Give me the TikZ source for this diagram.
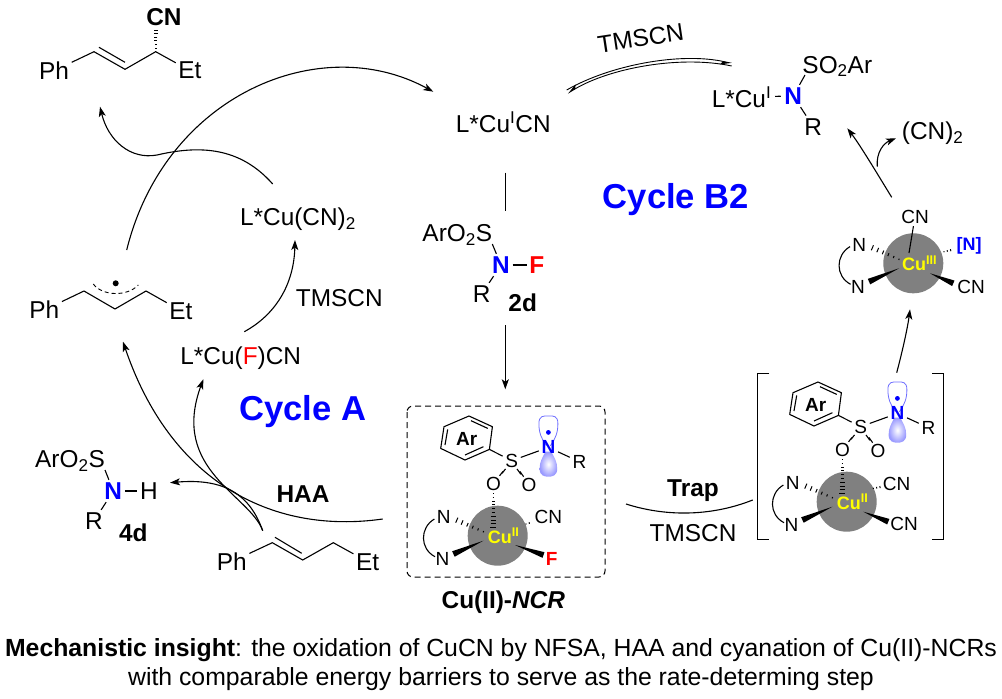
\documentclass[tikz,border=0pt]{standalone}
\usepackage{fontspec}
\setmainfont{Liberation Sans}
\usetikzlibrary{arrows.meta, calc, decorations.markings}
\definecolor{cycleblue}{RGB}{0, 0, 255}
\definecolor{lobeblue}{RGB}{110, 110, 255}
\definecolor{coregray}{RGB}{128, 128, 128}
\definecolor{cuyellow}{RGB}{255, 255, 0}
\newcommand{\wedgebond}[2]{\fill (#1) -- ($(#2)!3pt!90:(#1)$) -- ($(#2)!3pt!-90:(#1)$) -- cycle;}
\newcommand{\innersize}{\fontsize{19}{22}\selectfont}
\tikzset{
    atom/.style={font=\innersize},
    hashbond/.style={decorate, decoration={markings, mark=between positions 0 and 1 step #1pt with {
        \pgfmathsetmacro\hashw{0.3+0.07*#1*\pgfkeysvalueof{/pgf/decoration/mark info/sequence number}}
        \draw[line width=1pt] (0pt,-\hashw pt) -- (0pt,\hashw pt);}}},
    hashbond/.default=3.8,
    % Cu sphere with its N,N ligand
    pics/cusphere/.style={code={
        \fill[coregray] (0,0) circle (30);
        \node[atom] (-nu) at (-54,-18.3) {N};
        \node[atom] (-nd) at (-55.3,23.7) {N};
        \coordinate (-nu_t) at (-14.3,-4);
        \coordinate (-nu_w) at (-42.7,-16.3);
        \coordinate (-nd_t) at (-14.3,5);
        \coordinate (-nd_w) at (-44.3,18.3);
        \coordinate (-arc_a) at (-63.3,-16.7);
        \coordinate (-arc_b) at (-62.7,21);
        \path[hashbond=5.8] (-nu_t) -- (-nu_w);
        \wedgebond{-nd_t}{-nd_w}
        \draw (-arc_a) .. controls (-78,-8) and (-78,13) .. (-arc_b);
    }},
    % Ar-SO2-N(R) part sitting on the sphere
    pics/sulfonyl/.style={code={
        \coordinate (-r1) at (-28.7,-119.7);
        \coordinate (-r2) at (-5.3,-109);
        \coordinate (-r3) at (-8.3,-86.3);
        \coordinate (-r4) at (-32.7,-75.7);
        \coordinate (-r5) at (-57,-87.3);
        \coordinate (-r6) at (-53.7,-109);
        \draw[line join=round] (-r1) -- (-r2) -- (-r3) -- (-r4) -- (-r5) -- (-r6) -- cycle;
        \draw (-26.7,-115) -- (-10,-107.3);
        \draw (-14.3,-89) -- (-32.7,-80.7);
        \draw (-52.7,-90.7) -- (-50,-106.3);
        \node[atom, font=\innersize\bfseries] (-ar) at (-31,-96.3) {Ar};
        % p orbital
        \begin{scope}[shift={(50.7,0)}]
            \draw[lobeblue, line width=.8pt] (-2,-90) .. controls (-7,-97) and (-9.5,-103) .. (-9.5,-112)
                .. controls (-9.5,-120) and (-5,-120) .. (0,-119.7)
                .. controls (5,-120) and (9.5,-120) .. (9.5,-112)
                .. controls (9.5,-103) and (7,-97) .. (2,-90);
            \shade[inner color=white, outer color=lobeblue!70] (-3,-84) .. controls (-6,-78) and (-8.8,-74) .. (-8.8,-67)
                .. controls (-8.8,-60) and (-4,-59) .. (0,-59)
                .. controls (4,-59) and (8.8,-60) .. (8.8,-67)
                .. controls (8.8,-74) and (6,-78) .. (3,-84) -- cycle;
            \fill[cycleblue] (0,-103.3) circle (2.4);
        \end{scope}
        \node[atom] (-s) at (14,-75) {S};
        \node[atom, text=cycleblue, font=\innersize\bfseries] (-n) at (50.7,-88.3) {N};
        \node[atom] (-r) at (81.7,-74) {R};
        \node[atom] (-ol) at (-4.3,-51.7) {O};
        \node[atom] (-or) at (31.3,-50.7) {O};
        \draw (-r3) -- (-s);
        \draw (-s) -- (-n);
        \draw (-n) -- (-r);
        \draw[transform canvas={shift={(-1.3pt,-1.3pt)}}] (-s) -- (-ol);
        \draw[transform canvas={shift={(1.3pt,1.3pt)}}] (-s) -- (-ol);
        \draw[transform canvas={shift={(1.4pt,-1.2pt)}}] (-s) -- (-or);
        \draw[transform canvas={shift={(-1.4pt,1.2pt)}}] (-s) -- (-or);
        \coordinate (-o_w) at (-4.3,-5.7);
        \path[hashbond=3.8] (-ol.south) -- (-o_w);
    }}
}

\begin{document}
\begin{tikzpicture}[
    x=1pt, y=-1pt,
    line width=1.1pt,
    font=\fontsize{24.4}{28}\selectfont,
    every node/.style={inner sep=2.2pt},
    arr/.style={-{Stealth[length=10pt, width=7pt, inset=2.5pt]}},
    cyclelabel/.style={text=cycleblue, font=\fontsize{34.6}{38}\selectfont\bfseries},
    curoman/.style={text=cuyellow, font=\fontsize{18}{21}\selectfont\bfseries}
]
    \useasboundingbox (0,0) rectangle (1002,699);

    % --- Coordinates ---
    % Product
    \coordinate (prod_a) at (94,51.7);
    \coordinate (prod_b) at (125,69.3);
    \coordinate (prod_c) at (155.7,51.7);
    \coordinate (prod_d) at (99,47.3);
    \coordinate (prod_e) at (125,62.3);

    % Radical
    \coordinate (rad_a) at (84,291);
    \coordinate (rad_b) at (115,309);
    \coordinate (rad_c) at (146,291);

    % Alkene
    \coordinate (alk_a) at (272.3,542.7);
    \coordinate (alk_b) at (302.7,560);
    \coordinate (alk_c) at (333.3,542.7);
    \coordinate (alk_d) at (275,537.3);
    \coordinate (alk_e) at (301.7,553.3);

    % Arrow ends
    \coordinate (big_start) at (126.7,250);
    \coordinate (big_end)   at (433.3,91.7);
    \coordinate (out_start) at (272.7,184);
    \coordinate (out_mid)   at (157,155);
    \coordinate (out_end)   at (100,106.7);
    \coordinate (tms_start) at (244.3,331.7);
    \coordinate (tms_end)   at (295,240);
    \coordinate (haa_start) at (382.7,519);
    \coordinate (haa_end)   at (123,341.7);
    \coordinate (alk_start) at (262.7,530.7);
    \coordinate (cuf_end)   at (203.3,379.3);
    \coordinate (nh_end)    at (170,482.7);
    \coordinate (eq_la)     at (566.7,90);
    \coordinate (eq_lb)     at (567.7,93.3);
    \coordinate (eq_ra)     at (731.7,63.3);
    \coordinate (eq_rb)     at (731.7,66);
    \coordinate (mid_a)     at (505.3,172.7);
    \coordinate (mid_b)     at (505.3,210.7);
    \coordinate (mid_c)     at (505.3,325);
    \coordinate (mid_d)     at (505.3,389.3);
    \coordinate (trap_a)    at (626,504);
    \coordinate (trap_b)    at (752.7,500);
    \coordinate (up_a)      at (896.7,372.7);
    \coordinate (up_b)      at (910,309.3);
    \coordinate (cn_a)      at (891.7,197.3);
    \coordinate (cn_b)      at (847.3,128.3);
    \coordinate (cn_c)      at (877.3,166.7);
    \coordinate (cn_d)      at (896,138.3);

    % --- Product ---
    \node (prod_ph) at (54,70.7) {Ph};
    \node (prod_et) at (190,70.7) {Et};
    \node[font=\fontsize{24.4}{28}\selectfont\bfseries] (prod_cn) at (164,16.7) {CN};
    \coordinate (prod_hash) at (155.7,30);
    \draw (prod_ph) -- (prod_a) -- (prod_b) -- (prod_c) -- (prod_et);
    \draw (prod_d) -- (prod_e);
    \path[hashbond=3.6] (prod_c) -- (prod_hash);

    % --- Radical ---
    \node (rad_ph) at (44.3,310) {Ph};
    \node (rad_et) at (181,310.7) {Et};
    \draw (rad_ph) -- (rad_a) -- (rad_b) -- (rad_c) -- (rad_et);
    \draw[dashed, dash pattern=on 4pt off 3pt, line width=.9pt] (93.3,284) .. controls (102,296) and (127,297) .. (138.3,285);
    \fill (115.7,283.3) circle (3);

    % --- Alkene ---
    \node (alk_ph) at (231.7,561.7) {Ph};
    \node (alk_et) at (367.7,561.7) {Et};
    \draw (alk_ph) -- (alk_a) -- (alk_b) -- (alk_c) -- (alk_et);
    \draw (alk_d) -- (alk_e);

    % --- Copper species, left and top ---
    \node (cu_cn2) at (298,219.5) {L*Cu(CN)\textsubscript{2}};
    \node (cu_f) at (240.7,358.3) {L*Cu(\textcolor{red}{F})CN};
    \node (cu_i) at (503.3,122.7) {L*Cu\textsuperscript{I}CN};
    \node (tms_a) at (339.3,297.7) {TMSCN};
    \node[rotate=8.6] (tms_b) at (640.7,38.3) {TMSCN};
    \node[cyclelabel] (cyc_a) at (302.7,411.8) {Cycle A};
    \node[cyclelabel] (cyc_b) at (676,199.5) {Cycle B2};
    \node[font=\fontsize{24.4}{28}\selectfont\bfseries] (haa) at (303,494) {HAA};

    % --- 4d ---
    \node (h_ar) at (70,461) {ArO\textsubscript{2}S};
    \node[text=cycleblue, font=\fontsize{24.4}{28}\selectfont\bfseries] (h_n) at (113.3,491) {N};
    \node (h_h) at (149,491) {H};
    \node (h_r) at (94,521) {R};
    \node[font=\fontsize{24.4}{28}\selectfont\bfseries] (h_lab) at (133.3,533) {4d};
    \draw (h_n) -- (h_h);
    \draw (105,470) -- (h_n);
    \draw (h_n) -- (h_r);

    % --- 2d ---
    \node (f_ar) at (457.3,235.3) {ArO\textsubscript{2}S};
    \node[text=cycleblue, font=\fontsize{24.4}{28}\selectfont\bfseries] (f_n) at (501,265) {N};
    \node[text=red, font=\fontsize{24.4}{28}\selectfont\bfseries] (f_f) at (536.7,265) {F};
    \node (f_r) at (481.7,294) {R};
    \node[font=\fontsize{24.4}{28}\selectfont\bfseries] (f_lab) at (522.7,303) {2d};
    \draw (f_n) -- (f_f);
    \draw (492.3,244) -- (f_n);
    \draw (f_n) -- (f_r);

    % --- L*Cu-N complex ---
    \node (n_cu) at (741.5,97) {L*Cu\textsuperscript{I}};
    \node[text=cycleblue, font=\fontsize{24.4}{28}\selectfont\bfseries] (n_n) at (793.3,96) {N};
    \node (n_so) at (837.3,66.5) {SO\textsubscript{2}Ar};
    \node (n_r) at (813.3,126.7) {R};
    \node (n_cn) at (932.7,133.3) {(CN)\textsubscript{2}};
    \draw[shorten >=1pt, shorten <=1pt] (n_cu) -- (n_n);
    \draw (n_n) -- (805,75);
    \draw (n_n) -- (n_r);

    % --- Cu(II)-NCR ---
    \draw[dashed, dash pattern=on 6pt off 4pt, rounded corners=6pt, line width=1pt] (407,406) rectangle (605,577);
    \pic (ncr) at (497.7,535.7) {cusphere};
    \pic (ncr) at (497.7,535.7) {sulfonyl};
    \node[curoman] (ncr_cu) at (503.5,535.7) {Cu\textsuperscript{II}};
    \node[atom] (ncr_cn) at (548.3,517.3) {CN};
    \node[atom, text=red, font=\innersize\bfseries] (ncr_f) at (551.7,559.3) {F};
    \coordinate (ncr_ct) at (526,524);
    \coordinate (ncr_ft) at (515,545);
    \coordinate (ncr_fw) at (543.5,555);
    \path[hashbond=3.4] (ncr_ct) -- (ncr_cn);
    \wedgebond{ncr_ft}{ncr_fw}
    \node (ncr_lab) at (503.3,602.5) {\bfseries Cu(II)-\textit{NCR}};

    % --- Trapped intermediate ---
    \pic (trp) at (846.7,501.7) {cusphere};
    \pic (trp) at (846.7,501.7) {sulfonyl};
    \node[curoman] (trp_cu) at (852.5,501.7) {Cu\textsuperscript{II}};
    \node[atom] (trp_cna) at (896.7,484) {CN};
    \node[atom] (trp_cnb) at (904,524) {CN};
    \coordinate (trp_ct) at (873.3,488.3);
    \coordinate (trp_ft) at (863.3,511.7);
    \coordinate (trp_fw) at (888.3,521.7);
    \path[hashbond=3.4] (trp_ct) -- (trp_cna);
    \wedgebond{trp_ft}{trp_fw}
    \draw (769.3,373.3) -- (757.3,373.3) -- (757.3,539.3) -- (769.3,539.3);
    \draw (932.3,373.3) -- (943.3,373.3) -- (943.3,539.3) -- (932.3,539.3);

    % --- Cu(III) ---
    \pic (tri) at (913.3,263.3) {cusphere};
    \node[curoman] (tri_cu) at (919.5,263.3) {Cu\textsuperscript{III}};
    \node[atom] (tri_cna) at (915,216.7) {CN};
    \node[atom] (tri_cnb) at (971,286.7) {CN};
    \node[atom, text=cycleblue, font=\fontsize{18}{20}\selectfont\bfseries] (tri_n) at (969,246) {[N]};
    \coordinate (tri_c) at (909,253);
    \coordinate (tri_nt) at (944,251.7);
    \coordinate (tri_ft) at (930,273.3);
    \coordinate (tri_fw) at (953.3,283.3);
    \draw (tri_c) -- (tri_cna);
    \path[hashbond=3.4] (tri_nt) -- (tri_n);
    \wedgebond{tri_ft}{tri_fw}

    % --- Arrows ---
    \draw[arr] (big_start) .. controls (165,95) and (320,30) .. (big_end);
    \draw[arr] (out_start) .. controls (240,147) and (200,145) .. (out_mid) .. controls (130,160) and (108,140) .. (out_end);
    \draw[arr] (tms_start) .. controls (275,315) and (294,285) .. (tms_end);
    \draw[arr] (haa_start) .. controls (270,535) and (170,480) .. (haa_end);
    \draw[arr] (alk_start) .. controls (250,495) and (170,470) .. (cuf_end);
    \draw[arr] (alk_start) .. controls (250,495) and (225,478) .. (nh_end);
    \draw (mid_a) -- (mid_b);
    \draw[arr] (mid_c) -- (mid_d);
    \draw (trap_a) .. controls (670,518) and (715,515) .. (trap_b);
    \draw[arr] (up_a) .. controls (904,345) and (908,325) .. (up_b);
    \draw[arr] (cn_a) .. controls (875,170) and (860,145) .. (cn_b);
    \draw[arr] (cn_c) .. controls (876,152) and (884,143) .. (cn_d);
    % equilibrium harpoons
    \draw[-{Stealth[length=10pt, width=7pt, inset=2.5pt, harpoon, swap]}, line width=.9pt]
        (eq_la) .. controls (610,65) and (680,52) .. (eq_ra);
    \draw[-{Stealth[length=10pt, width=7pt, inset=2.5pt, harpoon, swap]}, line width=.9pt]
        (eq_rb) .. controls (680,55) and (610,68) .. (eq_lb);

    % --- Trap labels and caption ---
    \node[font=\fontsize{24.4}{28}\selectfont\bfseries] (trap_lab) at (693,491) {Trap};
    \node (trap_tms) at (693,533) {TMSCN};
    \node[align=center, font=\fontsize{24.8}{29}\selectfont] (caption) at (501,665)
        {\textbf{Mechanistic insight}: the oxidation of CuCN by NFSA, HAA and cyanation of Cu(II)-NCRs\\
         with comparable energy barriers to serve as the rate-determing step};
\end{tikzpicture}
\end{document}
